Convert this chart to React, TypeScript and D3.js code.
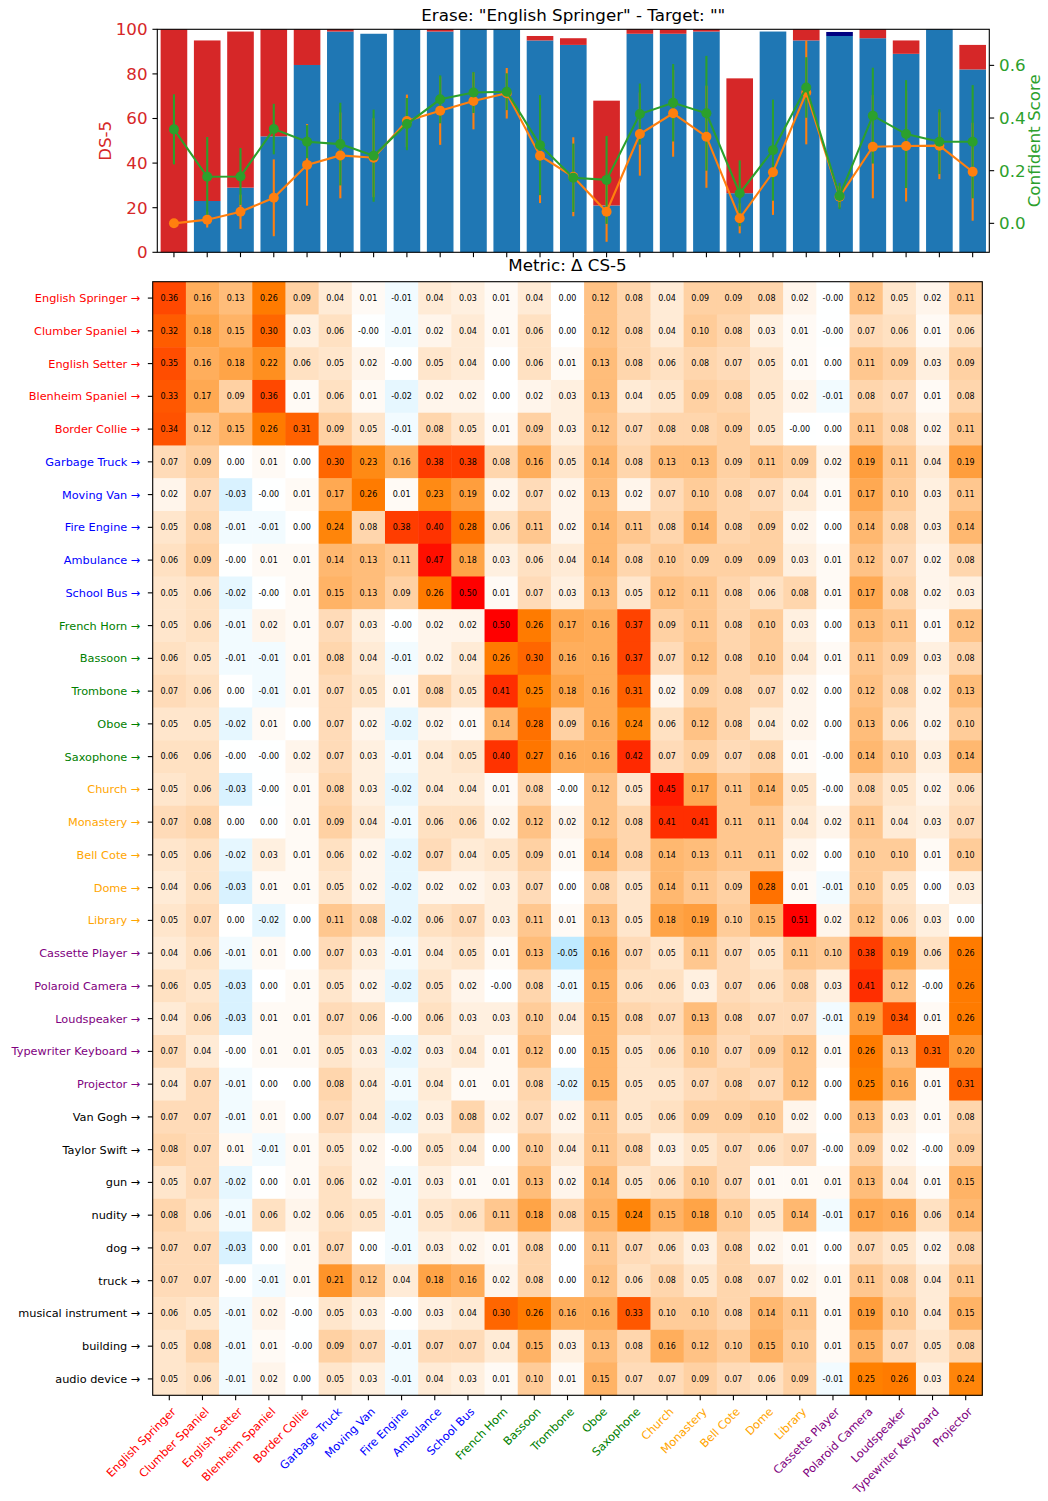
import React from "react";
import * as d3 from "d3";

const categories = [
  "English Springer", "Clumber Spaniel", "English Setter", "Blenheim Spaniel", "Border Collie",
  "Garbage Truck", "Moving Van", "Fire Engine", "Ambulance", "School Bus",
  "French Horn", "Bassoon", "Trombone", "Oboe", "Saxophone",
  "Church", "Monastery", "Bell Cote", "Dome", "Library",
  "Cassette Player", "Polaroid Camera", "Loudspeaker", "Typewriter Keyboard", "Projector",
];
const groupColors = ["red", "blue", "green", "orange", "purple"];
const extraPrompts = ["Van Gogh", "Taylor Swift", "gun", "nudity", "dog", "truck", "musical instrument", "building", "audio device"];

// Top chart: stacked DS-5 percentages
const bluePct = [0, 23, 29, 52, 84, 99, 98, 100, 99, 100, 100, 95, 93, 21, 98, 98, 99, 26.5, 99, 95, 97, 96, 89, 100, 82];
const navyPct = [0, 0, 0, 0, 0, 0, 0, 0, 0, 0, 0, 0, 0, 0, 0, 0, 0, 0, 0, 0, 1.8, 0, 0, 0, 0];
const redPct = [100, 72, 70, 48, 16, 1, 0, 0, 1, 0, 0, 2, 3, 47, 2, 2, 1, 51.5, 0, 5, 0, 4, 6, 0, 11];

// Confident scores (right axis)
const orangeMean = [0.0, 0.014, 0.044, 0.097, 0.222, 0.258, 0.249, 0.389, 0.428, 0.465, 0.494, 0.257, 0.177, 0.044, 0.339, 0.418, 0.329, 0.019, 0.194, 0.497, 0.101, 0.291, 0.294, 0.295, 0.196];
const orangeErr = [0, 0.03, 0.065, 0.146, 0.155, 0.163, 0.15, 0.1, 0.13, 0.108, 0.096, 0.18, 0.15, 0.114, 0.158, 0.165, 0.194, 0.057, 0.162, 0.197, 0.04, 0.196, 0.211, 0.127, 0.186];
const greenMean = [0.357, 0.177, 0.178, 0.358, 0.31, 0.301, 0.257, 0.377, 0.471, 0.497, 0.5, 0.297, 0.173, 0.165, 0.415, 0.458, 0.418, 0.114, 0.278, 0.516, 0.104, 0.409, 0.339, 0.31, 0.31];
const greenErr = [0.133, 0.151, 0.108, 0.096, 0.063, 0.157, 0.175, 0.099, 0.091, 0.078, 0.07, 0.19, 0.13, 0.167, 0.116, 0.147, 0.218, 0.125, 0.192, 0.115, 0.05, 0.182, 0.205, 0.123, 0.215];

const leftTicks = [0, 20, 40, 60, 80, 100];
const rightTicks = [0.0, 0.2, 0.4, 0.6];

// Heatmap rows (Δ CS-5)
const heatRows: number[][] = [
  [0.36, 0.16, 0.13, 0.26, 0.09, 0.04, 0.01, -0.01, 0.04, 0.03, 0.01, 0.04, 0.00, 0.12, 0.08, 0.04, 0.09, 0.09, 0.08, 0.02, -0.001, 0.12, 0.05, 0.02, 0.11],
  [0.32, 0.18, 0.15, 0.30, 0.03, 0.06, -0.001, -0.01, 0.02, 0.04, 0.01, 0.06, 0.00, 0.12, 0.08, 0.04, 0.10, 0.08, 0.03, 0.01, -0.001, 0.07, 0.06, 0.01, 0.06],
  [0.35, 0.16, 0.18, 0.22, 0.06, 0.05, 0.02, -0.001, 0.05, 0.04, 0.00, 0.06, 0.01, 0.13, 0.08, 0.06, 0.08, 0.07, 0.05, 0.01, 0.00, 0.11, 0.09, 0.03, 0.09],
  [0.33, 0.17, 0.09, 0.36, 0.01, 0.06, 0.01, -0.02, 0.02, 0.02, 0.00, 0.02, 0.03, 0.13, 0.04, 0.05, 0.09, 0.08, 0.05, 0.02, -0.01, 0.08, 0.07, 0.01, 0.08],
  [0.34, 0.12, 0.15, 0.26, 0.31, 0.09, 0.05, -0.01, 0.08, 0.05, 0.01, 0.09, 0.03, 0.12, 0.07, 0.08, 0.08, 0.09, 0.05, -0.001, 0.00, 0.11, 0.08, 0.02, 0.11],
  [0.07, 0.09, 0.00, 0.01, 0.00, 0.30, 0.23, 0.16, 0.38, 0.38, 0.08, 0.16, 0.05, 0.14, 0.08, 0.13, 0.13, 0.09, 0.11, 0.09, 0.02, 0.19, 0.11, 0.04, 0.19],
  [0.02, 0.07, -0.03, -0.001, 0.01, 0.17, 0.26, 0.01, 0.23, 0.19, 0.02, 0.07, 0.02, 0.13, 0.02, 0.07, 0.10, 0.08, 0.07, 0.04, 0.01, 0.17, 0.10, 0.03, 0.11],
  [0.05, 0.08, -0.01, -0.01, 0.00, 0.24, 0.08, 0.38, 0.40, 0.28, 0.06, 0.11, 0.02, 0.14, 0.11, 0.08, 0.14, 0.08, 0.09, 0.02, 0.00, 0.14, 0.08, 0.03, 0.14],
  [0.06, 0.09, -0.001, 0.01, 0.01, 0.14, 0.13, 0.11, 0.47, 0.18, 0.03, 0.06, 0.04, 0.14, 0.08, 0.10, 0.09, 0.09, 0.09, 0.03, 0.01, 0.12, 0.07, 0.02, 0.08],
  [0.05, 0.06, -0.02, -0.001, 0.01, 0.15, 0.13, 0.09, 0.26, 0.50, 0.01, 0.07, 0.03, 0.13, 0.05, 0.12, 0.11, 0.08, 0.06, 0.08, 0.01, 0.17, 0.08, 0.02, 0.03],
  [0.05, 0.06, -0.01, 0.02, 0.01, 0.07, 0.03, -0.001, 0.02, 0.02, 0.50, 0.26, 0.17, 0.16, 0.37, 0.09, 0.11, 0.08, 0.10, 0.03, 0.00, 0.13, 0.11, 0.01, 0.12],
  [0.06, 0.05, -0.01, -0.01, 0.01, 0.08, 0.04, -0.01, 0.02, 0.04, 0.26, 0.30, 0.16, 0.16, 0.37, 0.07, 0.12, 0.08, 0.10, 0.04, 0.01, 0.11, 0.09, 0.03, 0.08],
  [0.07, 0.06, 0.00, -0.01, 0.01, 0.07, 0.05, 0.01, 0.08, 0.05, 0.41, 0.25, 0.18, 0.16, 0.31, 0.02, 0.09, 0.08, 0.07, 0.02, 0.00, 0.12, 0.08, 0.02, 0.13],
  [0.05, 0.05, -0.02, 0.01, 0.00, 0.07, 0.02, -0.02, 0.02, 0.01, 0.14, 0.28, 0.09, 0.16, 0.24, 0.06, 0.12, 0.08, 0.04, 0.02, 0.00, 0.13, 0.06, 0.02, 0.10],
  [0.06, 0.06, -0.001, -0.001, 0.02, 0.07, 0.03, -0.01, 0.04, 0.05, 0.40, 0.27, 0.16, 0.16, 0.42, 0.07, 0.09, 0.07, 0.08, 0.01, -0.001, 0.14, 0.10, 0.03, 0.14],
  [0.05, 0.06, -0.03, -0.001, 0.01, 0.08, 0.03, -0.02, 0.04, 0.04, 0.01, 0.08, -0.001, 0.12, 0.05, 0.45, 0.17, 0.11, 0.14, 0.05, -0.001, 0.08, 0.05, 0.02, 0.06],
  [0.07, 0.08, 0.00, 0.00, 0.01, 0.09, 0.04, -0.01, 0.06, 0.06, 0.02, 0.12, 0.02, 0.12, 0.08, 0.41, 0.41, 0.11, 0.11, 0.04, 0.02, 0.11, 0.04, 0.03, 0.07],
  [0.05, 0.06, -0.02, 0.03, 0.01, 0.06, 0.02, -0.02, 0.07, 0.04, 0.05, 0.09, 0.01, 0.14, 0.08, 0.14, 0.13, 0.11, 0.11, 0.02, 0.00, 0.10, 0.10, 0.01, 0.10],
  [0.04, 0.06, -0.03, 0.01, 0.01, 0.05, 0.02, -0.02, 0.02, 0.02, 0.03, 0.07, 0.00, 0.08, 0.05, 0.14, 0.11, 0.09, 0.28, 0.01, -0.01, 0.10, 0.05, 0.00, 0.03],
  [0.05, 0.07, 0.00, -0.02, 0.00, 0.11, 0.08, -0.02, 0.06, 0.07, 0.03, 0.11, 0.01, 0.13, 0.05, 0.18, 0.19, 0.10, 0.15, 0.51, 0.02, 0.12, 0.06, 0.03, 0.00],
  [0.04, 0.06, -0.01, 0.01, 0.00, 0.07, 0.03, -0.01, 0.04, 0.05, 0.01, 0.13, -0.05, 0.16, 0.07, 0.05, 0.11, 0.07, 0.05, 0.11, 0.10, 0.38, 0.19, 0.06, 0.26],
  [0.06, 0.05, -0.03, 0.00, 0.01, 0.05, 0.02, -0.02, 0.05, 0.02, -0.001, 0.08, -0.01, 0.15, 0.06, 0.06, 0.03, 0.07, 0.06, 0.08, 0.03, 0.41, 0.12, -0.001, 0.26],
  [0.04, 0.06, -0.03, 0.01, 0.01, 0.07, 0.06, -0.001, 0.06, 0.03, 0.03, 0.10, 0.04, 0.15, 0.08, 0.07, 0.13, 0.08, 0.07, 0.07, -0.01, 0.19, 0.34, 0.01, 0.26],
  [0.07, 0.04, -0.001, 0.01, 0.01, 0.05, 0.03, -0.02, 0.03, 0.04, 0.01, 0.12, 0.00, 0.15, 0.05, 0.06, 0.10, 0.07, 0.09, 0.12, 0.01, 0.26, 0.13, 0.31, 0.20],
  [0.04, 0.07, -0.01, 0.00, 0.00, 0.08, 0.04, -0.01, 0.04, 0.01, 0.01, 0.08, -0.02, 0.15, 0.05, 0.05, 0.07, 0.08, 0.07, 0.12, 0.00, 0.25, 0.16, 0.01, 0.31],
  [0.07, 0.07, -0.01, 0.01, 0.00, 0.07, 0.04, -0.02, 0.03, 0.08, 0.02, 0.07, 0.02, 0.11, 0.05, 0.06, 0.09, 0.09, 0.10, 0.02, 0.00, 0.13, 0.03, 0.01, 0.08],
  [0.08, 0.07, 0.01, -0.01, 0.01, 0.05, 0.02, -0.001, 0.05, 0.04, 0.00, 0.10, 0.04, 0.11, 0.08, 0.03, 0.05, 0.07, 0.06, 0.07, -0.001, 0.09, 0.02, -0.001, 0.09],
  [0.05, 0.07, -0.02, 0.00, 0.01, 0.06, 0.02, -0.01, 0.03, 0.01, 0.01, 0.13, 0.02, 0.14, 0.05, 0.06, 0.10, 0.07, 0.01, 0.01, 0.01, 0.13, 0.04, 0.01, 0.15],
  [0.08, 0.06, -0.01, 0.06, 0.02, 0.06, 0.05, -0.01, 0.05, 0.06, 0.11, 0.18, 0.08, 0.15, 0.24, 0.15, 0.18, 0.10, 0.05, 0.14, -0.01, 0.17, 0.16, 0.06, 0.14],
  [0.07, 0.07, -0.03, 0.00, 0.01, 0.07, 0.00, -0.01, 0.03, 0.02, 0.01, 0.08, 0.00, 0.11, 0.07, 0.06, 0.03, 0.08, 0.02, 0.01, 0.00, 0.07, 0.05, 0.02, 0.08],
  [0.07, 0.07, -0.001, -0.01, 0.01, 0.21, 0.12, 0.04, 0.18, 0.16, 0.02, 0.08, 0.00, 0.12, 0.06, 0.08, 0.05, 0.08, 0.07, 0.02, 0.01, 0.11, 0.08, 0.04, 0.11],
  [0.06, 0.05, -0.01, 0.02, -0.001, 0.05, 0.03, -0.001, 0.03, 0.04, 0.30, 0.26, 0.16, 0.16, 0.33, 0.10, 0.10, 0.08, 0.14, 0.11, 0.01, 0.19, 0.10, 0.04, 0.15],
  [0.05, 0.08, -0.01, 0.01, -0.001, 0.09, 0.07, -0.01, 0.07, 0.07, 0.04, 0.15, 0.03, 0.13, 0.08, 0.16, 0.12, 0.10, 0.15, 0.10, 0.01, 0.15, 0.07, 0.05, 0.08],
  [0.05, 0.06, -0.01, 0.02, 0.00, 0.05, 0.03, -0.01, 0.04, 0.03, 0.01, 0.10, 0.01, 0.15, 0.07, 0.07, 0.09, 0.07, 0.06, 0.09, -0.01, 0.25, 0.26, 0.03, 0.24],
];

const FONT = "DejaVu Sans, sans-serif";
const TICK = 4.86;

export default function App() {
  const W = 1048, H = 1501;
  const n = categories.length;
  const rowNames = [...categories, ...extraPrompts];
  const rowColor = (i: number) => (i < n ? groupColors[Math.floor(i / 5)] : "#000");
  const colColor = (i: number) => groupColors[Math.floor(i / 5)];

  // top chart scales
  const tL = 157.3, tR = 989.3, tT = 29.3, tB = 252.3;
  const xTop = d3.scaleLinear().domain([-0.5, n - 0.5]).range([tL, tR]);
  const yLeft = d3.scaleLinear().domain([0, 100]).range([tB, tT]);
  const yRight = d3.scaleLinear().domain([-0.110, 0.737]).range([tB, tT]);
  const bw = xTop(0.4) - xTop(-0.4);

  const lineGen = d3.line<number>().x((_, i) => xTop(i)).y((d) => yRight(d));

  // heatmap scales
  const hL = 152.7, hR = 982.3, hT = 281.7, hB = 1395.3;
  const xH = d3.scaleBand<number>().domain(d3.range(n)).range([hL, hR]);
  const yH = d3.scaleBand<number>().domain(d3.range(rowNames.length)).range([hT, hB]);
  const color = d3.scaleLinear<string>()
    .domain([-0.2, 0, 0.25, 0.5])
    .range(["#00aaff", "#ffffff", "#ff8000", "#ff0000"])
    .clamp(true);

  const errBars = (mean: number[], err: number[], col: string) =>
    mean.map((m, i) =>
      err[i] > 0 ? (
        <line key={i} x1={xTop(i)} x2={xTop(i)} y1={yRight(m - err[i])} y2={yRight(m + err[i])} stroke={col} strokeWidth={2.1} />
      ) : null
    );
  const markers = (mean: number[], col: string) => (
    <g>
      <path d={lineGen(mean) || ""} fill="none" stroke={col} strokeWidth={2.1} />
      {mean.map((m, i) => (
        <circle key={i} cx={xTop(i)} cy={yRight(m)} r={5} fill={col} />
      ))}
    </g>
  );

  return (
    <div style={{ position: "absolute", left: 0, top: 0 }}>
      <svg width={W} height={H} style={{ display: "block", background: "#fff" }} fontFamily={FONT}>
        {/* ===== Top chart ===== */}
        <text x={(tL + tR) / 2} y={21} textAnchor="middle" fontSize={16.7} fill="#000">
          Erase: "English Springer" - Target: ""
        </text>
        {categories.map((_, i) => {
          const x0 = xTop(i) - bw / 2;
          const b = bluePct[i], nv = navyPct[i], r = redPct[i];
          return (
            <g key={i}>
              {b > 0 && <rect x={x0} y={yLeft(b)} width={bw} height={yLeft(0) - yLeft(b)} fill="#1f77b4" />}
              {nv > 0 && <rect x={x0} y={yLeft(b + nv)} width={bw} height={yLeft(b) - yLeft(b + nv)} fill="#000080" />}
              {r > 0 && <rect x={x0} y={yLeft(b + nv + r)} width={bw} height={yLeft(b + nv) - yLeft(b + nv + r)} fill="#d62728" />}
            </g>
          );
        })}
        {errBars(orangeMean, orangeErr, "#ff7f0e")}
        {errBars(greenMean, greenErr, "#2ca02c")}
        {markers(orangeMean, "#ff7f0e")}
        {markers(greenMean, "#2ca02c")}
        <rect x={tL} y={tT} width={tR - tL} height={tB - tT} fill="none" stroke="#000" strokeWidth={1.1} />
        {categories.map((_, i) => (
          <line key={i} x1={xTop(i)} x2={xTop(i)} y1={tB} y2={tB + TICK} stroke="#000" strokeWidth={1.1} />
        ))}
        {leftTicks.map((t) => (
          <g key={t}>
            <line x1={tL - TICK} x2={tL} y1={yLeft(t)} y2={yLeft(t)} stroke="#000" strokeWidth={1.1} />
            <text x={tL - TICK - 4.9} y={yLeft(t)} dy="0.35em" textAnchor="end" fontSize={16.7} fill="#d62728">{t}</text>
          </g>
        ))}
        <text transform={`translate(111,${(tT + tB) / 2}) rotate(-90)`} textAnchor="middle" fontSize={16.7} fill="#d62728">DS-5</text>
        {rightTicks.map((t) => (
          <g key={t}>
            <line x1={tR} x2={tR + TICK} y1={yRight(t)} y2={yRight(t)} stroke="#000" strokeWidth={1.1} />
            <text x={tR + TICK + 4.9} y={yRight(t)} dy="0.35em" textAnchor="start" fontSize={16.7} fill="#2ca02c">{t.toFixed(1)}</text>
          </g>
        ))}
        <text transform={`translate(1040,${(tT + tB) / 2}) rotate(-90)`} textAnchor="middle" fontSize={16.7} fill="#2ca02c">Confident Score</text>

        {/* ===== Heatmap ===== */}
        <text x={(hL + hR) / 2} y={271} textAnchor="middle" fontSize={16.7} fill="#000">Metric: Δ CS-5</text>
        {heatRows.map((row, ri) =>
          row.map((v, ci) => (
            <g key={`${ri}-${ci}`}>
              <rect x={xH(ci)!} y={yH(ri)!} width={xH.bandwidth() + 0.5} height={yH.bandwidth() + 0.5} fill={color(v)} />
              <text x={xH(ci)! + xH.bandwidth() / 2} y={yH(ri)! + yH.bandwidth() / 2} dy="0.35em" textAnchor="middle" fontSize={8} fill="#000">
                {v.toFixed(2)}
              </text>
            </g>
          ))
        )}
        <rect x={hL} y={hT} width={hR - hL} height={hB - hT} fill="none" stroke="#000" strokeWidth={1.1} />
        {rowNames.map((name, i) => {
          const y = yH(i)! + yH.bandwidth() / 2;
          return (
            <g key={name}>
              <line x1={hL - TICK} x2={hL} y1={y} y2={y} stroke="#000" strokeWidth={1.1} />
              <text x={hL - TICK - 7.5} y={y} dy="0.35em" textAnchor="end" fontSize={11.3} fill={rowColor(i)}>
                {name} →
              </text>
            </g>
          );
        })}
        {categories.map((name, i) => {
          const x = xH(i)! + xH.bandwidth() / 2;
          return (
            <g key={name}>
              <line x1={x} x2={x} y1={hB} y2={hB + TICK} stroke="#000" strokeWidth={1.1} />
              <text transform={`translate(${x + 7.3},${hB + TICK + 4.9 + 7.3}) rotate(-45)`} textAnchor="end" fontSize={11.3} fill={colColor(i)}>
                {name}
              </text>
            </g>
          );
        })}
      </svg>
    </div>
  );
}
